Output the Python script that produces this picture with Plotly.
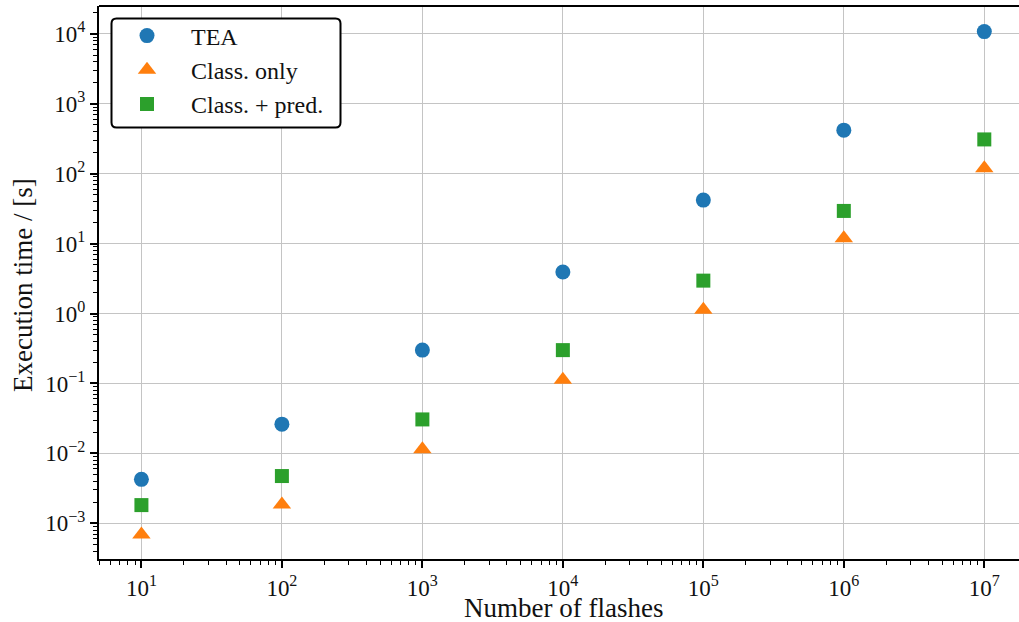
import plotly.graph_objects as go

# ---- data ----
flashes = [1e1, 1e2, 1e3, 1e4, 1e5, 1e6, 1e7]
tea = [0.00425, 0.0262, 0.30, 3.93, 42.0, 421.0, 10800.0]
class_only = [0.00069, 0.00186, 0.0115, 0.113, 1.13, 12.0, 120.0]
class_pred = [0.00182, 0.00474, 0.0306, 0.30, 2.96, 29.4, 310.0]

series_names = ["TEA", "Class. only", "Class. + pred."]
series_colors = ["#1f77b4", "#ff7f0e", "#2ca02c"]
series_symbols = ["circle", "triangle-up", "square"]
series_sizes = [15, 16, 14]

x_tickvals = [1e1, 1e2, 1e3, 1e4, 1e5, 1e6, 1e7]
x_ticktext = ["10<sup>1</sup>", "10<sup>2</sup>", "10<sup>3</sup>", "10<sup>4</sup>",
              "10<sup>5</sup>", "10<sup>6</sup>", "10<sup>7</sup>"]
y_tickvals = [1e-3, 1e-2, 1e-1, 1e0, 1e1, 1e2, 1e3, 1e4]
y_ticktext = ["10<sup>\u22123</sup>", "10<sup>\u22122</sup>", "10<sup>\u22121</sup>",
              "10<sup>0</sup>", "10<sup>1</sup>", "10<sup>2</sup>", "10<sup>3</sup>",
              "10<sup>4</sup>"]

FONT = "Liberation Serif"
TXT = "#111111"
W, H = 1019, 622
L, R, T, B = 99, 0, 6, 63
PW, PH = W - L - R, H - T - B


def px(xp):
    return (xp - L) / PW


def py(yp):
    return (H - B - yp) / PH


fig = go.Figure()
for i, (name, vals) in enumerate(zip(series_names, [tea, class_only, class_pred])):
    fig.add_trace(go.Scatter(
        x=flashes, y=vals, mode="markers", name=name,
        legendgroup=name,
        marker=dict(symbol=series_symbols[i], size=series_sizes[i],
                    color=series_colors[i], line=dict(width=0)),
    ))

axis_common = dict(
    type="log",
    showline=True, linecolor="black", linewidth=2,
    ticks="outside", ticklen=7, tickwidth=1.5, tickcolor="black",
    showgrid=True, gridcolor="#c4c4c4", gridwidth=1,
    zeroline=False,
    tickfont=dict(family=FONT, size=23, color=TXT),
    minor=dict(ticks="outside", ticklen=4, tickwidth=1, tickcolor="black",
               dtick="D1", showgrid=False),
)

fig.update_xaxes(range=[0.698, 7.247], tickvals=x_tickvals, ticktext=x_ticktext,
                 **axis_common)
fig.update_yaxes(range=[-3.511, 4.40], tickvals=y_tickvals, ticktext=y_ticktext,
                 **axis_common)

# rounded legend frame
x0, x1, y0, y1, r = px(111.5), px(340.5), py(18.5), py(127.5), 5
rx, ry = r / PW, r / PH
path = (f"M {x0+rx},{y0} L {x1-rx},{y0} Q {x1},{y0} {x1},{y0-ry} "
        f"L {x1},{y1+ry} Q {x1},{y1} {x1-rx},{y1} "
        f"L {x0+rx},{y1} Q {x0},{y1} {x0},{y1+ry} "
        f"L {x0},{y0-ry} Q {x0},{y0} {x0+rx},{y0} Z")

fig.update_layout(
    width=W, height=H,
    margin=dict(l=L, r=R, t=T, b=B, pad=0),
    paper_bgcolor="white", plot_bgcolor="white",
    font=dict(family=FONT, color=TXT),
    showlegend=True,
    legend=dict(
        x=px(103), y=py(13.5), xanchor="left", yanchor="top",
        bgcolor="rgba(0,0,0,0)", borderwidth=0,
        font=dict(family=FONT, size=24, color=TXT),
        itemwidth=78, tracegroupgap=0, traceorder="grouped",
    ),
    shapes=[
        dict(type="path", xref="paper", yref="paper", path=path,
             fillcolor="white", line=dict(color="black", width=2), layer="above"),
        dict(type="line", xref="paper", yref="paper", x0=0, x1=1, y0=1, y1=1,
             line=dict(color="black", width=2), layer="above"),
    ],
    annotations=[
        dict(text="Number of flashes", xref="paper", yref="paper",
             x=px(563), y=0, xanchor="center", yanchor="top", yshift=-32,
             showarrow=False, font=dict(family=FONT, size=27, color=TXT)),
        dict(text="Execution time / [s]", xref="paper", yref="paper",
             x=px(23), y=py(285), xanchor="center", yanchor="middle",
             textangle=-90, showarrow=False,
             font=dict(family=FONT, size=27, color=TXT)),
    ],
)

fig.write_html("out.html")
